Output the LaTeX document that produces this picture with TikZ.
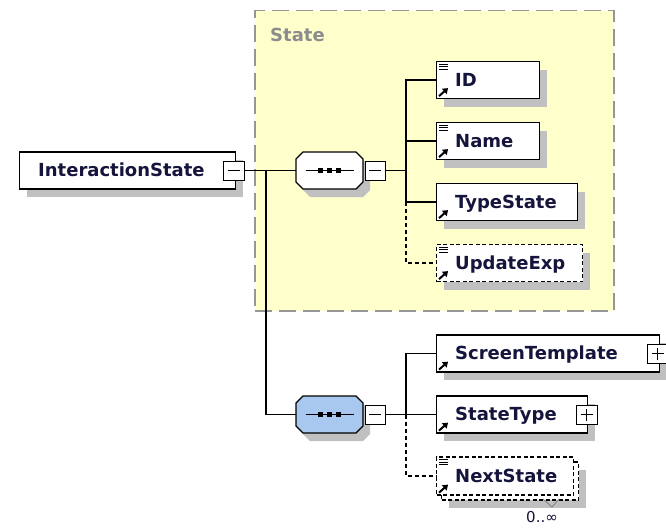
\documentclass[tikz,border=0pt]{standalone}
\usepackage{fontspec}
\setmainfont{DejaVu Sans}
\usetikzlibrary{shadows,arrows.meta}
\definecolor{grpfill}{RGB}{255,255,204}
\definecolor{grpline}{RGB}{150,150,150}
\definecolor{stategray}{RGB}{140,140,140}
\definecolor{shadowgray}{RGB}{192,192,192}
\definecolor{seqblue}{RGB}{168,200,240}
\definecolor{txtcol}{RGB}{20,20,60}
\newcommand\myarrow[1]{\draw[line width=2pt,-{Triangle[length=5pt,width=7pt]}] ([shift={(3,-3)}]#1.south west) -- ([shift={(12,-11)}]#1.south west);}
\newcommand\mydoc[1]{\draw[line width=0.8pt] ([shift={(3,3.5)}]#1.north west) -- ++(9,0) ([shift={(3,6)}]#1.north west) -- ++(9,0) ([shift={(3,8.5)}]#1.north west) -- ++(9,0);}
\newcommand\myminus[1]{\draw[line width=1pt] ([xshift=-6pt]#1.center) -- ([xshift=6pt]#1.center);}
\newcommand\myplus[1]{\draw[line width=1pt] ([xshift=-6pt]#1.center) -- ([xshift=6pt]#1.center) ([yshift=-6pt]#1.center) -- ([yshift=6pt]#1.center);}
\newcommand\myoct[2]{%
\draw[line width=1.3pt, fill=#2, shadowed] ([xshift=7pt]#1.north west) -- ([xshift=-7pt]#1.north east) -- ([yshift=-7pt]#1.north east) -- ([yshift=7pt]#1.south east) -- ([xshift=-7pt]#1.south east) -- ([xshift=7pt]#1.south west) -- ([yshift=7pt]#1.south west) -- ([yshift=-7pt]#1.north west) -- cycle;
\draw[line width=1.3pt] ([xshift=-24pt]#1.center) -- ([xshift=24pt]#1.center);
\foreach \dx in {-9,0,9} {\fill ([xshift=\dx pt]#1.center) ++(-2.5,-2.5) rectangle ++(5,5);}
}
\begin{document}
\begin{tikzpicture}[x=1pt,y=-1pt,
  shadowed/.style={general shadow={fill=shadowgray, shadow xshift=7pt, shadow yshift=-8pt}},
  plainbox/.style={draw=black, line width=1.3pt, fill=white, rectangle, inner sep=0pt, minimum height=37pt, anchor=west},
  box/.style={plainbox, shadowed},
  optbox/.style={box, dash pattern=on 4pt off 2.5pt},
  etext/.style={font=\fontsize{18}{21}\selectfont\bfseries, text=txtcol, inner sep=0pt, text height=12.9pt, text depth=0pt},
  conn/.style={line width=1.3pt, draw=black},
  optconn/.style={conn, dash pattern=on 4pt off 3pt},
  pmbox/.style={draw=black, line width=1pt, fill=white, rectangle, inner sep=0pt, minimum width=20pt, minimum height=19pt},
  seqnode/.style={rectangle, inner sep=0pt, outer sep=0pt, minimum width=67pt, minimum height=37pt},
]
\useasboundingbox (0,0) rectangle (666,527);
\fill[white] (0,0) rectangle (666,527);

% group
\node[draw=grpline, fill=grpfill, line width=1.5pt, dash pattern=on 17pt off 7pt, rectangle, inner sep=0pt, minimum width=359pt, minimum height=300pt, anchor=north west] (grp) at (254,10) {};
\node[etext, text=stategray, anchor=west] (grplabel) at (270,35) {State};

% root
\node[box, minimum width=216pt, label={[etext,anchor=west,xshift=19pt]west:InteractionState}] (is) at (19,170.5) {};
\node[pmbox, minimum width=21pt] (ismin) at (233.5,170.5) {};
\myminus{ismin}

% sequence 1
\node[seqnode] (seq1) at (329.5,170.5) {};
\myoct{seq1}{white}
\node[pmbox] (min1) at (375,170.5) {};
\myminus{min1}
\coordinate (b1) at (406,170.5);

\node[box, minimum width=103pt, label={[etext,anchor=west,xshift=19pt]west:ID}] (id) at (436,80) {};
\node[box, minimum width=103pt, label={[etext,anchor=west,xshift=19pt]west:Name}] (name) at (436,141) {};
\node[box, minimum width=141pt, label={[etext,anchor=west,xshift=19pt]west:TypeState}] (ts) at (436,202) {};
\node[optbox, minimum width=146pt, label={[etext,anchor=west,xshift=19pt]west:UpdateExp}] (ue) at (436,263) {};
\mydoc{id}\myarrow{id}
\mydoc{name}\myarrow{name}
\myarrow{ts}
\mydoc{ue}\myarrow{ue}

% sequence 2
\node[seqnode] (seq2) at (329.5,414.5) {};
\myoct{seq2}{seqblue}
\node[pmbox] (min2) at (375,414.5) {};
\myminus{min2}
\coordinate (b2) at (406,414.5);

\node[box, minimum width=223pt, label={[etext,anchor=west,xshift=19pt]west:ScreenTemplate}] (st) at (436,353.5) {};
\node[pmbox, minimum width=21pt] (stplus) at (657.5,353.5) {};
\myplus{stplus}
\myarrow{st}
\node[box, minimum width=151pt, label={[etext,anchor=west,xshift=19pt]west:StateType}] (sty) at (436,414.5) {};
\node[pmbox, minimum width=21pt] (styplus) at (586.5,414.5) {};
\myplus{styplus}
\myarrow{sty}
\node[optbox, minimum width=137pt, minimum height=38pt] (nsback) at (441,481) {};
\node[plainbox, dash pattern=on 4pt off 2.5pt, minimum width=137pt, minimum height=38pt, label={[etext,anchor=west,xshift=19pt]west:NextState}] (ns) at (436,476) {};
\mydoc{ns}\myarrow{ns}
\draw[line width=0.8pt, draw=gray] (543,499) -- (552,507) -- (559,499);
\node[font=\fontsize{15}{17}\selectfont, text=txtcol, inner sep=0pt] (mult) at (542,517.5) {0..∞};

% connectors
\draw[conn] (ismin.east) -- (seq1.west);
\coordinate (j1) at (266,170.5);
\draw[conn] (j1) |- (seq2.west);
\draw[conn] (min1.east) -- (b1);
\draw[conn] (b1) |- (id.west);
\draw[conn] (b1) |- (name.west);
\draw[conn] (b1) |- (ts.west);
\draw[optconn] (b1 |- ts.west) |- (ue.west);
\draw[conn] (min2.east) -- (sty.west);
\draw[conn] (b2) |- (st.west);
\draw[optconn] (b2) |- (ns.west);
\end{tikzpicture}
\end{document}
